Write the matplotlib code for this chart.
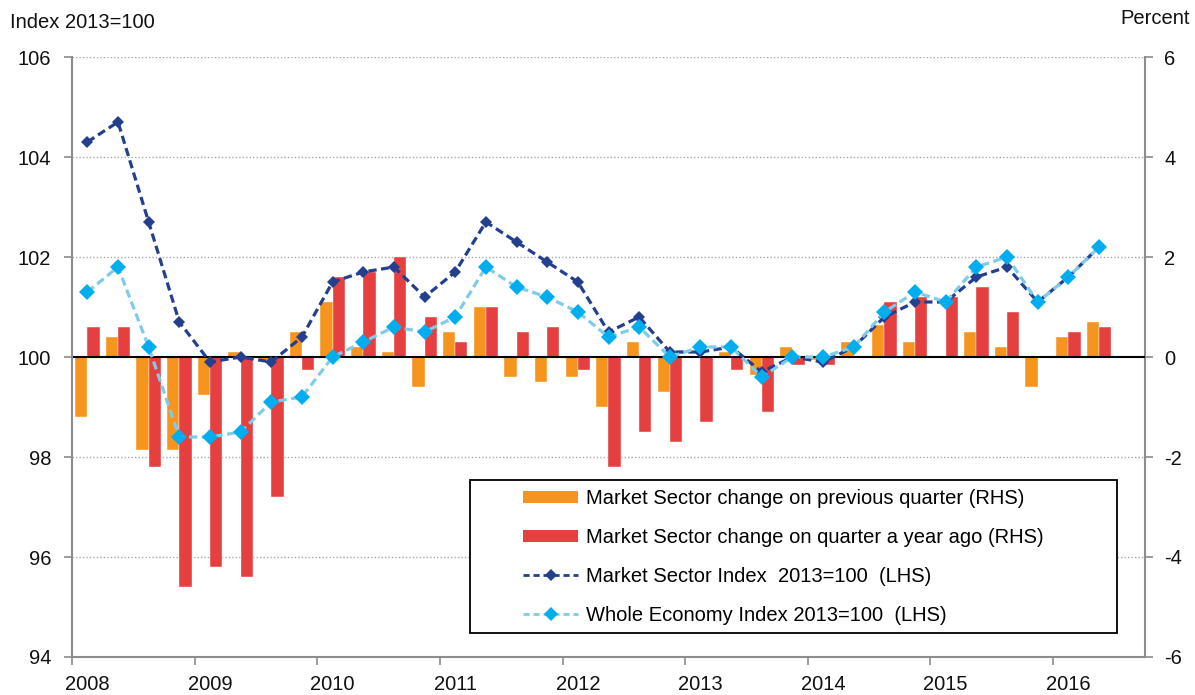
import numpy as np
import matplotlib
matplotlib.use("Agg")
import matplotlib.pyplot as plt
from matplotlib.patches import Patch, Rectangle
from matplotlib.lines import Line2D

plt.rcParams['font.family'] = ['Liberation Sans', 'DejaVu Sans']
plt.rcParams['axes.unicode_minus'] = False

# ---- data (2008 Q1 .. 2016 Q2) ----
years = ['2008', '2009', '2010', '2011', '2012', '2013', '2014', '2015', '2016']
q_change = [-1.2, 0.4, -1.85, -1.85, -0.75, 0.1, -0.05, 0.5, 1.1, 0.2, 0.1, -0.6,
            0.5, 1.0, -0.4, -0.5, -0.4, -1.0, 0.3, -0.7, 0.0, 0.1, -0.35, 0.2,
            -0.05, 0.3, 0.65, 0.3, 0.0, 0.5, 0.2, -0.6, 0.4, 0.7]
yoy_change = [0.6, 0.6, -2.2, -4.6, -4.2, -4.4, -2.8, -0.25, 1.6, 1.7, 2.0, 0.8,
              0.3, 1.0, 0.5, 0.6, -0.25, -2.2, -1.5, -1.7, -1.3, -0.25, -1.1, -0.15,
              -0.15, 0.0, 1.1, 1.2, 1.2, 1.4, 0.9, np.nan, 0.5, 0.6]
ms_index = [104.3, 104.7, 102.7, 100.7, 99.9, 100.0, 99.9, 100.4, 101.5, 101.7, 101.8, 101.2,
            101.7, 102.7, 102.3, 101.9, 101.5, 100.5, 100.8, 100.1, 100.1, 100.2, 99.7, 100.0,
            99.9, 100.2, 100.8, 101.1, 101.1, 101.6, 101.8, 101.1, 101.6, 102.2]
we_index = [101.3, 101.8, 100.2, 98.4, 98.4, 98.5, 99.1, 99.2, 100.0, 100.3, 100.6, 100.5,
            100.8, 101.8, 101.4, 101.2, 100.9, 100.4, 100.6, 100.0, 100.2, 100.2, 99.6, 100.0,
            100.0, 100.2, 100.9, 101.3, 101.1, 101.8, 102.0, 101.1, 101.6, 102.2]
labels = ['Market Sector change on previous quarter (RHS)',
          'Market Sector change on quarter a year ago (RHS)',
          'Market Sector Index  2013=100  (LHS)',
          'Whole Economy Index 2013=100  (LHS)']

ORANGE = '#F7941E'
RED = '#E53F3F'
DARK = '#233F8E'
LIGHT_M = '#00AEEF'
LIGHT_L = '#7FCBE8'
GREY = '#8C8C8C'
FS = 14.5

W, H = 1195, 695
fig = plt.figure(figsize=(W / 100, H / 100), dpi=100)
ax1 = fig.add_axes([72 / W, 1 - 657 / H, (1145 - 72) / W, 600 / H])
ax2 = ax1.twinx()
ax1.set_zorder(2)
ax2.set_zorder(1)
ax1.patch.set_visible(False)

x = np.arange(len(ms_index))
bw = 0.4

# bars on RHS
ax2.bar(x - bw / 2, q_change, width=bw, color=ORANGE, edgecolor='white', linewidth=0.3, zorder=2)
ax2.bar(x + bw / 2, yoy_change, width=bw, color=RED, edgecolor='white', linewidth=0.3, zorder=2)
ax2.axhline(0, color='black', lw=1.5, zorder=3)
ax2.set_ylim(-6, 6)
ax2.set_yticks(np.arange(-6, 7, 2))
ax2.set_axisbelow(True)
for yv in np.arange(-4, 7, 2):
    if yv != 0:
        ax2.axhline(yv, color='#A8A8A8', lw=1.0, ls=(0, (1, 1.5)), zorder=0.5)

# lines on LHS
ax1.plot(x, ms_index, color=DARK, lw=2.3, dashes=(2.6, 1.4), marker='D', ms=6.5,
         mec=DARK, mfc=DARK, mew=0, zorder=3)
ax1.plot(x, we_index, color=LIGHT_L, lw=2.3, dashes=(2.6, 1.4), marker='D', ms=7.8,
         mec=LIGHT_M, mfc=LIGHT_M, mew=0, zorder=4)
ax1.set_ylim(94, 106)
ax1.set_yticks(np.arange(94, 107, 2))
ax1.set_xlim(-0.5, len(ms_index) + 0.5)

# spines
for a in (ax1, ax2):
    a.spines['top'].set_visible(False)
ax1.spines['right'].set_visible(False)
ax2.spines['left'].set_visible(False)
ax2.spines['bottom'].set_visible(False)
ax1.spines['left'].set_color(GREY)
ax1.spines['left'].set_linewidth(1.5)
ax1.spines['bottom'].set_color(GREY)
ax1.spines['bottom'].set_linewidth(1.5)
ax2.spines['right'].set_color(GREY)
ax2.spines['right'].set_linewidth(1.5)

ax1.tick_params(axis='y', direction='out', length=6, width=1.2, color=GREY,
                labelsize=FS, pad=9, labelcolor='#111111')
ax2.tick_params(axis='y', direction='out', length=6, width=1.2, color=GREY,
                labelsize=FS, pad=8, labelcolor='#111111')

# x axis: ticks at year boundaries, labels at Q1
ax1.set_xticks(np.arange(0, len(years) * 4, 4) - 0.5)
ax1.set_xticklabels([])
ax1.set_xticks(np.arange(0, len(years) * 4, 4), minor=True)
ax1.set_xticklabels(years, minor=True)
ax1.tick_params(axis='x', which='major', direction='out', length=6, width=1.2, color=GREY)
ax1.tick_params(axis='x', which='minor', length=0, labelsize=FS, pad=13, labelcolor='#111111')
ax2.tick_params(axis='x', which='both', length=0, labelbottom=False)

# titles
fig.text(10 / W, 1 - 22 / H, 'Index 2013=100', ha='left', va='center', fontsize=FS, color='#111111')
fig.text(1190 / W, 1 - 19 / H, 'Percent', ha='right', va='center', fontsize=FS, color='#111111')

# legend frame + legend
rect = Rectangle(((470 - 72) / 1073, (657 - 633) / 600), 647 / 1073, 153 / 600,
                 transform=ax1.transAxes, facecolor='white', edgecolor='black',
                 lw=1.3, zorder=6, clip_on=False)
ax1.add_patch(rect)
handles = [Patch(facecolor=ORANGE, edgecolor='none'),
           Patch(facecolor=RED, edgecolor='none'),
           Line2D([], [], color=DARK, lw=2, dashes=(2.2, 1.4), marker='D', ms=6, mfc=DARK, mew=0),
           Line2D([], [], color=LIGHT_L, lw=2, dashes=(2.2, 1.4), marker='D', ms=7, mfc=LIGHT_M, mew=0)]
leg = ax1.legend(handles, labels, loc='upper left',
                 bbox_to_anchor=((523 - 72) / 1073, (657 - 489) / 600),
                 frameon=False, fontsize=FS, handlelength=2.75, handleheight=0.55,
                 handletextpad=0.36, labelspacing=0.99, borderpad=0, borderaxespad=0)
leg.set_zorder(7)

fig.savefig('out.png', dpi=100)
